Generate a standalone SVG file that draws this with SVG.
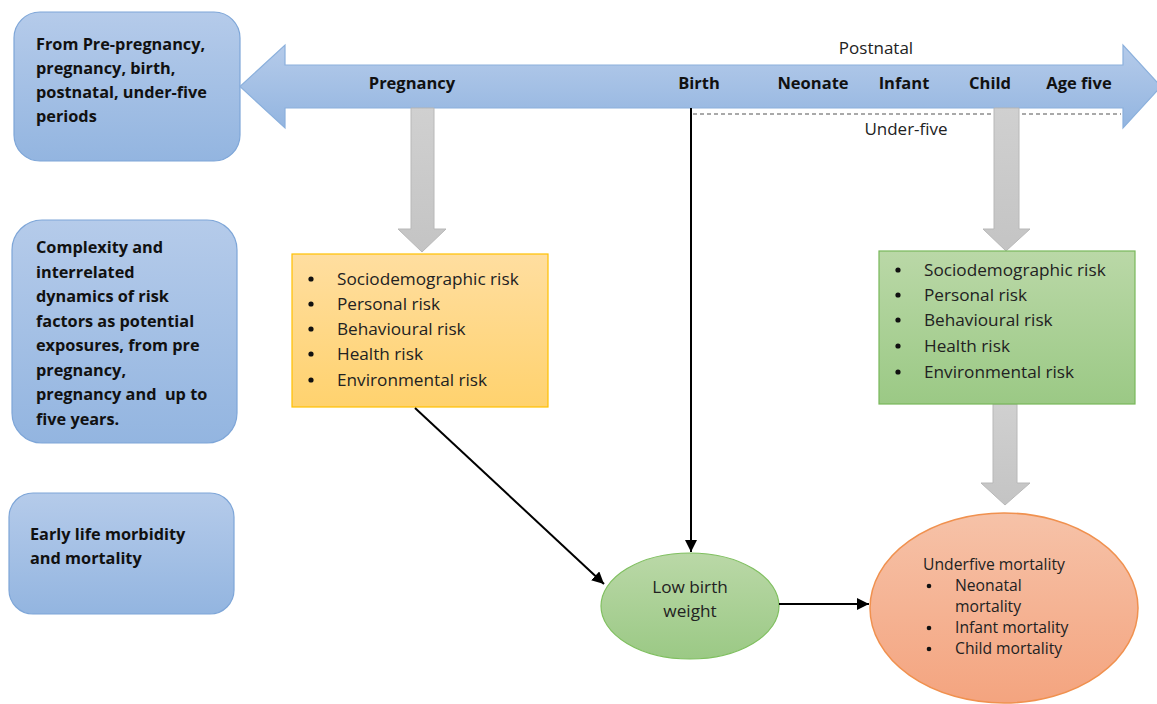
<svg xmlns="http://www.w3.org/2000/svg" width="1157" height="704" viewBox="0 0 1157 704">
<defs>
<linearGradient id="gBlue" x1="0" y1="0" x2="0" y2="1"><stop offset="0" stop-color="#b5cbea"/><stop offset="1" stop-color="#93b5e0"/></linearGradient>
<linearGradient id="gYel" x1="0" y1="0" x2="0" y2="1"><stop offset="0" stop-color="#ffdea0"/><stop offset="1" stop-color="#ffd26e"/></linearGradient>
<linearGradient id="gGrn" x1="0" y1="0" x2="0" y2="1"><stop offset="0" stop-color="#bad8a7"/><stop offset="1" stop-color="#9bc985"/></linearGradient>
<linearGradient id="gOr" x1="0" y1="0" x2="0" y2="1"><stop offset="0" stop-color="#f6c2a8"/><stop offset="1" stop-color="#f4a47f"/></linearGradient>
<linearGradient id="gGray" x1="0" y1="0" x2="0" y2="1"><stop offset="0" stop-color="#d0d0d0"/><stop offset="1" stop-color="#c4c4c4"/></linearGradient>
<marker id="ah" viewBox="0 0 10 10" refX="10" refY="5" markerWidth="6" markerHeight="6" orient="auto-start-reverse" markerUnits="strokeWidth"><path d="M0,0 L10,5 L0,10 z" fill="#000"/></marker>
</defs>
<style>
.box{fill:url(#gBlue);stroke:#7ea6d8;stroke-width:1.2}
.bt{font-family:"Open Sans","Liberation Sans",sans-serif;font-weight:bold;font-size:16.3px;fill:#111}
.lt{font-family:"Open Sans","Liberation Sans",sans-serif;font-weight:bold;font-size:16.5px;fill:#111;text-anchor:middle}
.rt{font-family:"Open Sans","Liberation Sans",sans-serif;font-size:17.2px;fill:#222}
.pt{font-family:"Open Sans","Liberation Sans",sans-serif;font-size:17px;fill:#222;text-anchor:middle}
.st{font-family:"Open Sans","Liberation Sans",sans-serif;font-size:15.7px;fill:#222}
.gray{fill:url(#gGray);stroke:#b8b8b8;stroke-width:1}
.con{stroke:#000;stroke-width:2;fill:none}
</style>
<rect width="1157" height="704" fill="#fff"/>

<g id="periods">
<rect class="box" x="14" y="12" width="226" height="149" rx="26"/>
<text class="bt" x="36" y="50">From Pre-pregnancy,</text>
<text class="bt" x="36" y="74">pregnancy, birth,</text>
<text class="bt" x="36" y="98">postnatal, under-five</text>
<text class="bt" x="36" y="122">periods</text>
</g>

<g id="complexity">
<rect class="box" x="12" y="220" width="225" height="223" rx="30"/>
<text class="bt" x="36" y="253">Complexity and</text>
<text class="bt" x="36" y="277.5">interrelated</text>
<text class="bt" x="36" y="302">dynamics of risk</text>
<text class="bt" x="36" y="326.5">factors as potential</text>
<text class="bt" x="36" y="351">exposures, from pre</text>
<text class="bt" x="36" y="375.5">pregnancy,</text>
<text class="bt" x="36" y="400" xml:space="preserve">pregnancy and  up to</text>
<text class="bt" x="36" y="424.5">five years.</text>
</g>

<g id="early">
<rect class="box" x="9" y="493" width="225" height="121" rx="24"/>
<text class="bt" x="30" y="540">Early life morbidity</text>
<text class="bt" x="30" y="564">and mortality</text>
</g>

<g id="timeline">
<path d="M240,86.5 L285,45 L285,65 L1123,65 L1123,45 L1161,86.5 L1123,128 L1123,108 L285,108 L285,128 Z" fill="url(#gBlue)" stroke="#8bb0dc" stroke-width="1.2"/>
<text class="lt" x="412" y="89">Pregnancy</text>
<text class="lt" x="699" y="89">Birth</text>
<text class="lt" x="813" y="89">Neonate</text>
<text class="lt" x="904" y="89">Infant</text>
<text class="lt" x="990" y="89">Child</text>
<text class="lt" x="1079" y="89">Age five</text>
<text class="pt" x="876" y="54">Postnatal</text>
<line x1="693" y1="114" x2="1121" y2="114" stroke="#555" stroke-width="1.2" stroke-dasharray="4,3"/>
<text class="pt" x="906" y="135">Under-five</text>
</g>

<g id="grayArrows">
<path class="gray" d="M411,108 L434,108 L434,229 L446,229 L422,252 L398,229 L411,229 Z"/>
<path class="gray" d="M994,108 L1019,108 L1019,229 L1030,229 L1006,251 L983,229 L994,229 Z"/>
<path class="gray" d="M993,404 L1017,404 L1017,483 L1030,483 L1005,505 L981,483 L993,483 Z"/>
</g>

<g id="riskPregnancy">
<rect x="292" y="254" width="256" height="153" fill="url(#gYel)" stroke="#ffc000" stroke-width="1.2"/>
<g fill="#111"><circle cx="311" cy="279" r="2.6"/><circle cx="311" cy="304" r="2.6"/><circle cx="311" cy="329" r="2.6"/><circle cx="311" cy="354" r="2.6"/><circle cx="311" cy="380" r="2.6"/></g>
<text class="rt" x="337" y="285">Sociodemographic risk</text>
<text class="rt" x="337" y="310">Personal risk</text>
<text class="rt" x="337" y="335">Behavioural risk</text>
<text class="rt" x="337" y="360">Health risk</text>
<text class="rt" x="337" y="386">Environmental risk</text>
</g>

<g id="riskChild">
<rect x="879" y="251" width="256" height="153" fill="url(#gGrn)" stroke="#78b85a" stroke-width="1.2"/>
<g fill="#111"><circle cx="898" cy="270" r="2.6"/><circle cx="898" cy="295" r="2.6"/><circle cx="898" cy="320" r="2.6"/><circle cx="898" cy="346" r="2.6"/><circle cx="898" cy="372" r="2.6"/></g>
<text class="rt" x="924" y="276">Sociodemographic risk</text>
<text class="rt" x="924" y="301">Personal risk</text>
<text class="rt" x="924" y="326">Behavioural risk</text>
<text class="rt" x="924" y="352">Health risk</text>
<text class="rt" x="924" y="378">Environmental risk</text>
</g>

<g id="lbw">
<ellipse cx="690" cy="606" rx="89" ry="53" fill="url(#gGrn)" stroke="#7fbf5f" stroke-width="1.2"/>
<text class="rt" x="690" y="593" text-anchor="middle">Low birth</text>
<text class="rt" x="690" y="617" text-anchor="middle">weight</text>
</g>

<g id="mortality">
<ellipse cx="1004" cy="608" rx="134" ry="95" fill="url(#gOr)" stroke="#f0914f" stroke-width="1.5"/>
<text class="st" x="923" y="570">Underfive mortality</text>
<g fill="#111"><circle cx="929" cy="586" r="2.3"/><circle cx="929" cy="628" r="2.3"/><circle cx="929" cy="649" r="2.3"/></g>
<text class="st" x="955" y="591">Neonatal</text>
<text class="st" x="955" y="612">mortality</text>
<text class="st" x="955" y="633">Infant mortality</text>
<text class="st" x="955" y="654">Child mortality</text>
</g>

<g id="connectors">
<line class="con" x1="691" y1="108" x2="691" y2="552" marker-end="url(#ah)"/>
<line class="con" x1="415" y1="408" x2="604" y2="584" marker-end="url(#ah)"/>
<line class="con" x1="779" y1="604" x2="869" y2="604" marker-end="url(#ah)"/>
</g>
</svg>
